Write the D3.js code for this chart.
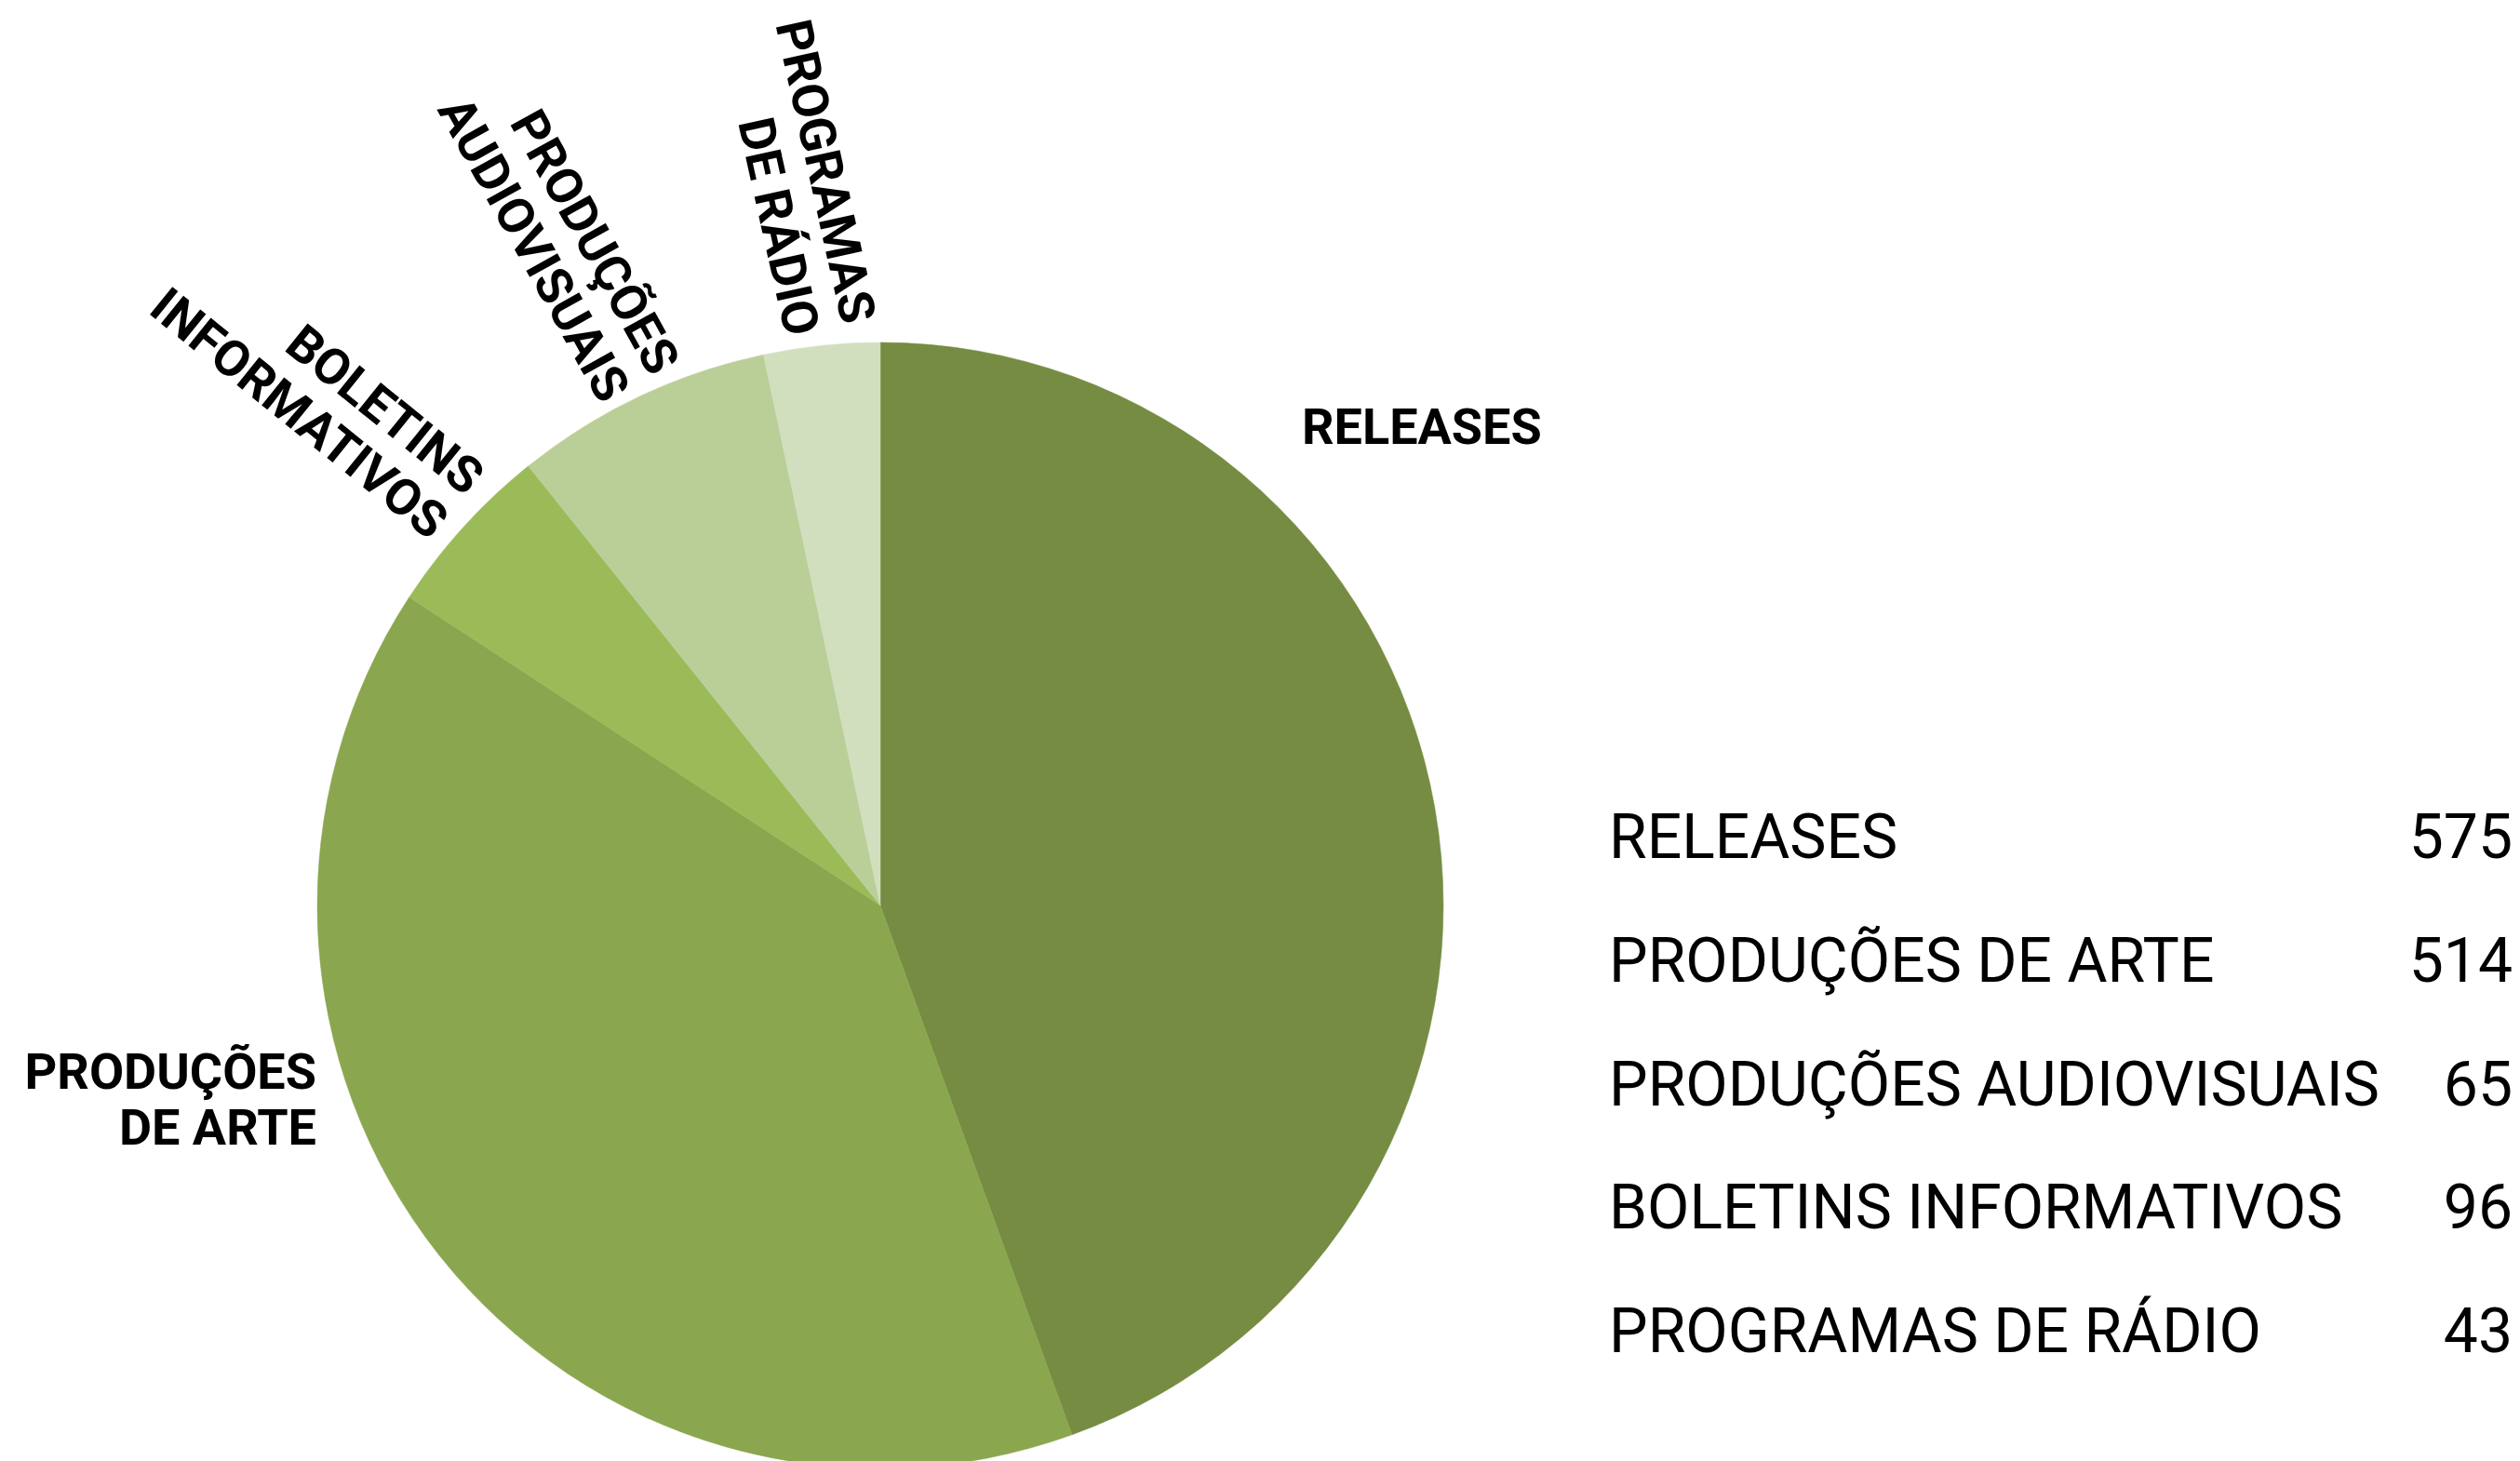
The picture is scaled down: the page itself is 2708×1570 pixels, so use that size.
<!DOCTYPE html>
<html>
<head>
<meta charset="utf-8">
<script src="https://cdn.jsdelivr.net/npm/d3@7"></script>
<style>
  html, body { margin: 0; padding: 0; background: #ffffff; }
  svg { display: block; }
</style>
</head>
<body>
<svg id="chart" width="2708" height="1570"></svg>
<script>
// ---- data ----
const categories = ["RELEASES", "PRODUÇÕES DE ARTE", "PRODUÇÕES AUDIOVISUAIS", "BOLETINS INFORMATIVOS", "PROGRAMAS DE RÁDIO"];
const values = [575, 514, 65, 96, 43];
// labels as printed beside each slice in the original (slice order)
const sliceLabels = [["RELEASES"], ["PRODUÇÕES", "DE ARTE"], ["BOLETINS", "INFORMATIVOS"], ["PRODUÇÕES", "AUDIOVISUAIS"], ["PROGRAMAS", "DE RÁDIO"]];
const sliceColors = ["#758c42", "#8aa64f", "#9bbb59", "#bacf98", "#d1dfbf"];

// ---- layout ----
const W = 2708, H = 1570;
const cx = 946, cy = 973, R = 605;
const labelFont = "Roboto, 'Liberation Sans', sans-serif";
const labelSize = 54;
// label anchor layout (x, y, rotation, anchor, line gap)
const labelLayout = [
  { x: 1399, y: 477, rot: 0,    anchor: "start", gap: 60 },
  { x: 340,  y: 1170, rot: 0,   anchor: "end",   gap: 60 },
  { x: 500,  y: 534, rot: 39,   anchor: "end",   gap: 61 },
  { x: 699,  y: 406, rot: 61,   anchor: "end",   gap: 61 },
  { x: 905,  y: 350, rot: 77.5, anchor: "end",   gap: 62 }
];
const legend = { x: 1729, numX: 2700, y0: 922, step: 132.8, size: 66 };

const svg = d3.select("#chart");

const pie = d3.pie().sort(null).value(d => d).startAngle(0).endAngle(2 * Math.PI);
const arc = d3.arc().innerRadius(0).outerRadius(R);
const arcs = pie(values);

const g = svg.append("g").attr("transform", `translate(${cx},${cy})`);
g.selectAll("path.slice")
  .data(arcs)
  .join("path")
  .attr("class", "slice")
  .attr("d", arc)
  .attr("fill", (d, i) => sliceColors[i])
  .attr("stroke", (d, i) => sliceColors[i])
  .attr("stroke-width", 0.5);

// slice labels
const lbl = svg.selectAll("g.slice-label")
  .data(arcs)
  .join("g")
  .attr("class", "slice-label")
  .attr("transform", (d, i) => `translate(${labelLayout[i].x},${labelLayout[i].y}) rotate(${labelLayout[i].rot})`);

lbl.each(function (d, i) {
  const t = d3.select(this).append("text")
    .attr("font-family", labelFont)
    .attr("font-weight", 700)
    .attr("font-size", labelSize)
    .attr("fill", "#000")
    .attr("text-anchor", labelLayout[i].anchor);
  sliceLabels[i].forEach((line, j) => {
    t.append("tspan").attr("x", 0).attr("y", j * labelLayout[i].gap).text(line);
  });
});

// legend table
const rows = svg.append("g").selectAll("g.row")
  .data(categories)
  .join("g")
  .attr("class", "row")
  .attr("transform", (d, i) => `translate(0,${legend.y0 + i * legend.step})`);

rows.append("text")
  .attr("x", legend.x)
  .attr("font-family", "Roboto, sans-serif")
  .attr("font-size", legend.size)
  .attr("fill", "#000")
  .text(d => d);

rows.append("text")
  .attr("x", legend.numX)
  .attr("text-anchor", "end")
  .attr("font-family", "Roboto, sans-serif")
  .attr("font-size", legend.size)
  .attr("fill", "#000")
  .text((d, i) => values[i]);
</script>
</body>
</html>
